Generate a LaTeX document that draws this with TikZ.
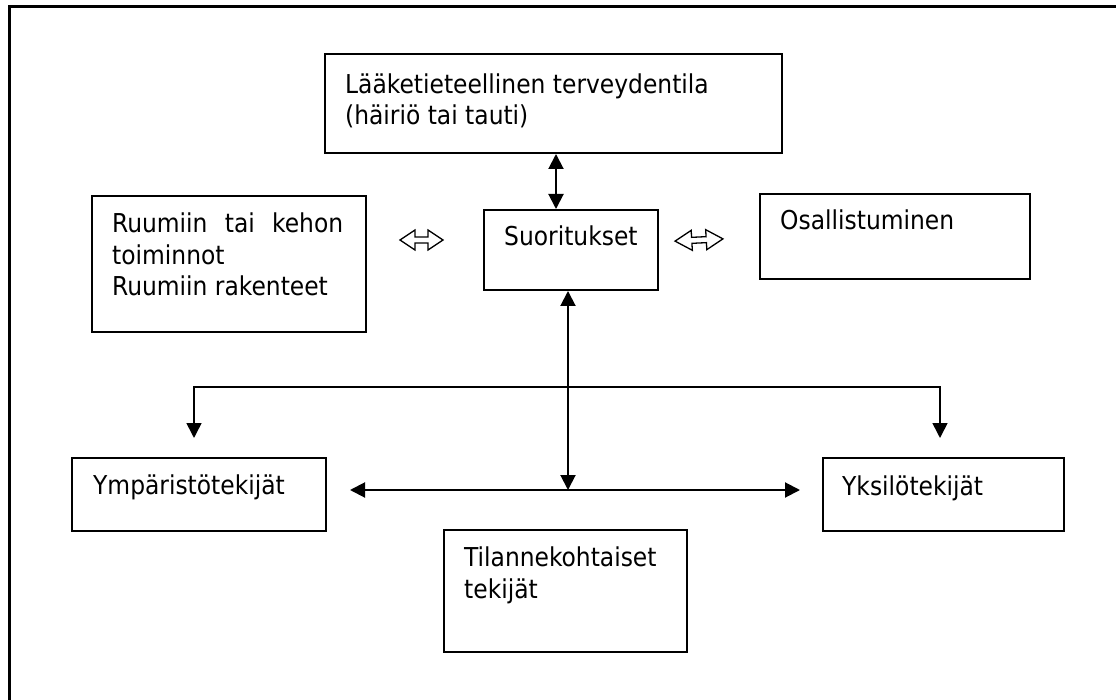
\documentclass[tikz,border=0pt]{standalone}
\usepackage{fontspec}
\setmainfont{DejaVu Sans Condensed}
\usetikzlibrary{arrows.meta}

\begin{document}
\begin{tikzpicture}[x=1pt, y=-1pt,
  box/.style={draw, line width=2pt, inner sep=0pt, anchor=north west},
  % base west of a multi-line text is its last line
  txt/.style={inner sep=0pt, anchor=base west, align=left,
              font=\fontsize{26}{31.5}\selectfont},
  conn/.style={line width=2pt},
  branch/.style={line width=1.6pt},
  tip/.tip={Triangle[length=15pt, width=15pt]},
  hollow/.pic={
    \draw[line width=1.3pt, line join=miter]
      (-21.5,0) -- (-6.5,-10) -- (-6.5,-3) -- (6.5,-3) -- (6.5,-10)
      -- (21.5,0) -- (6.5,10) -- (6.5,3) -- (-6.5,3) -- (-6.5,10) -- cycle;
  }]
\useasboundingbox (0,0) rectangle (1116,700);
\clip (0,0) rectangle (1116,700);

% outer frame (only its top and left sides fall on the page)
\draw[line width=3pt] (9,720) |- (1140,7);

% boxes
\node[box, minimum width=457, minimum height=99] (top)  at (324,53)  {};
\node[box, minimum width=274, minimum height=136] (ruum) at (91,195)  {};
\node[box, minimum width=174, minimum height=80]  (suor) at (483,209) {};
\node[box, minimum width=270, minimum height=85]  (osal) at (759,193) {};
\node[box, minimum width=254, minimum height=73]  (ymp)  at (71,457)  {};
\node[box, minimum width=243, minimum height=122] (tila) at (443,529) {};
\node[box, minimum width=241, minimum height=73]  (yks)  at (822,457) {};

% texts
\node[txt] (ttop)  at (345,125) {Lääketieteellinen terveydentila\\(häiriö tai tauti)};
\node[txt] (truum) at (112,296) {\makebox[231pt][s]{Ruumiin tai kehon}\\toiminnot\\Ruumiin rakenteet};
\node[txt] (tsuor) at (504,246) {Suoritukset};
\node[txt] (tosal) at (780,230) {Osallistuminen};
\node[txt] (tymp)  at (93,494)  {Ympäristötekijät};
\node[txt] (ttila) at (464,598) {Tilannekohtaiset\\tekijät};
\node[txt] (tyks)  at (842,495) {Yksilötekijät};

% guide coordinates for the connectors
\coordinate (ax) at (556,0);
\coordinate (bx) at (568,0);
\coordinate (lx) at (194,0);
\coordinate (rx) at (940,0);
\coordinate (by) at (0,387);
\coordinate (hy) at (0,490);

% connectors
\draw[conn, tip-tip] (top.south -| ax) -- (suor.north -| ax);
\draw[conn, tip-tip] (suor.south -| bx) -- (bx |- hy);
\draw[branch, -tip] (bx |- by) -| ([yshift=19pt]ymp.north -| lx);
\draw[branch, -tip] (bx |- by) -| ([yshift=19pt]yks.north -| rx);
\draw[conn, tip-tip] ([xshift=23pt]ymp.east |- hy) -- ([xshift=-22pt]yks.west |- hy);

% hollow double arrows
\coordinate (la) at (421.5,240);
\coordinate (ra) at (699,240);
\pic at (la) {hollow};
\pic[xscale=1.116, rotate=3] at (ra) {hollow};
\end{tikzpicture}
\end{document}
